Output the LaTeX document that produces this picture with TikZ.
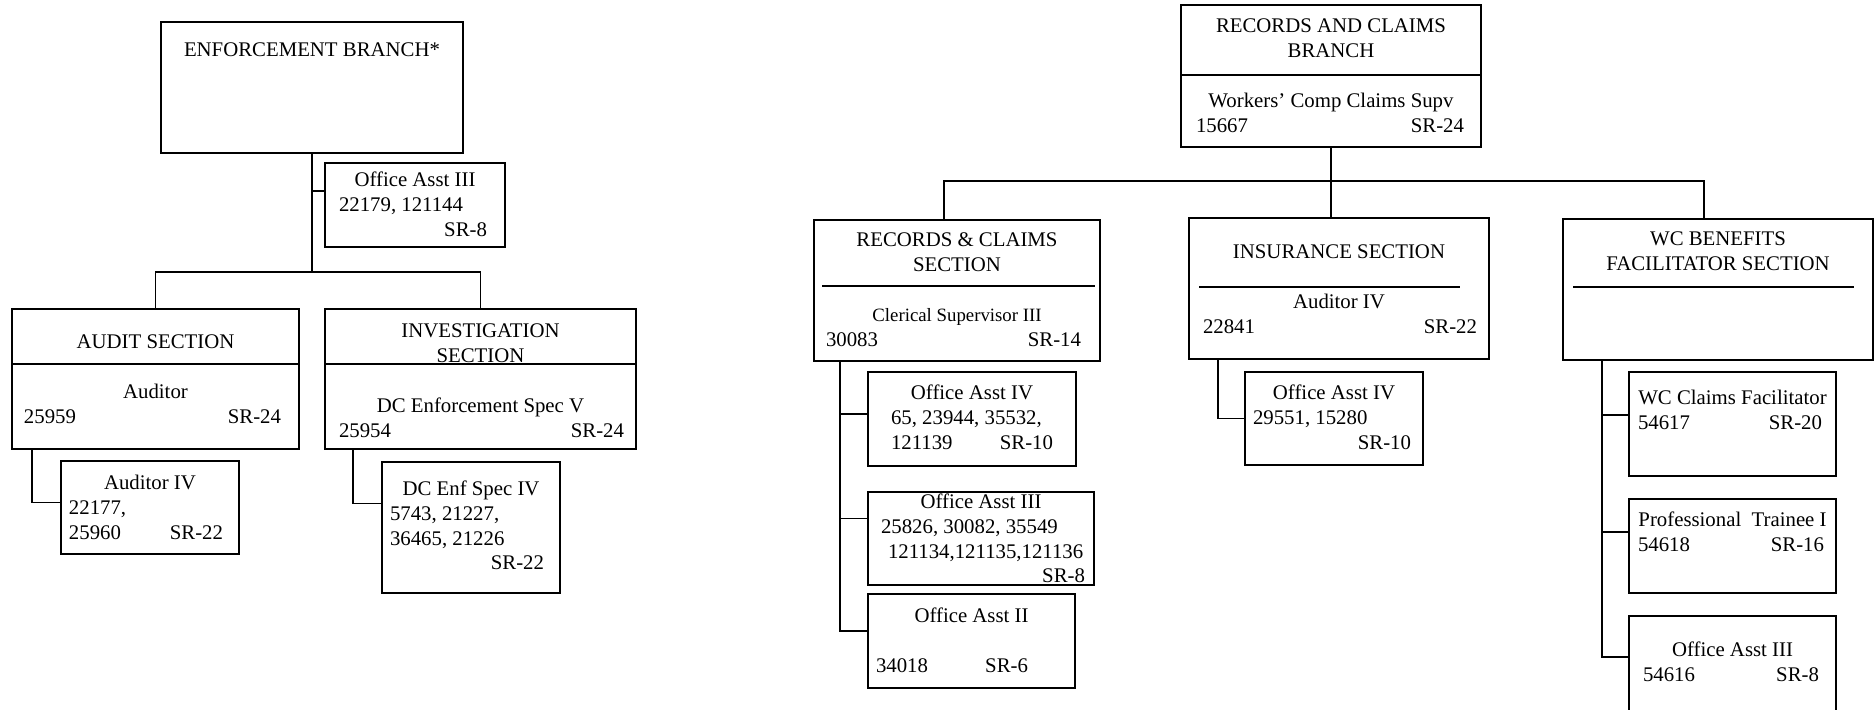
\documentclass[tikz,border=0pt]{standalone}
\usepackage{fontspec}
\setmainfont{Liberation Serif}
\usetikzlibrary{positioning}
\newlength\unitpx
\setlength\unitpx{0.5pt}
\newcommand\boxtxt[4]{\parbox[c][#2\unitpx][t]{\dimexpr#1\unitpx-12pt\relax}{\centering\vspace*{\dimexpr#3\unitpx-\ht\strutbox\relax}\strut#4}}
\newcommand\lr[2]{\hbox to\hsize{#1\hfill#2}}
\newcommand\ctrline[1]{\hbox to\hsize{\hss#1\hss}}
\tikzset{
  box/.style={draw,line width=0.9pt,inner xsep=6pt,inner ysep=0pt,outer sep=0pt,anchor=north west,font=\fontsize{10.4}{12.3}\selectfont},
  link/.style={draw,line width=0.6pt},
  divider/.style={draw,line width=0.9pt},
}

\begin{document}
\begin{tikzpicture}[x=0.5pt,y=-0.5pt]
\useasboundingbox (0,0) rectangle (1875,710);
\node[box] (ebr) at (161,22) {\boxtxt{302}{131}{35}{ENFORCEMENT BRANCH*}};
\node[box] (oa3e) at (325,163) {\boxtxt{180}{84}{24}{Office Asst III\\ \lr{\hskip1pt 22179, 121144}{}\lr{}{SR-8\hskip3pt}}};
\node[box] (aud) at (12,309) {\boxtxt{287}{140}{40}{AUDIT SECTION\\[12.7pt] Auditor\\ \lr{25959}{SR-24\hskip3pt}}};
\node[box] (inv) at (325,309) {\boxtxt{311}{140}{29}{INVESTIGATION\\ SECTION\\[12.7pt] DC Enforcement Spec V\\ \lr{\hskip1pt 25954}{SR-24}}};
\node[box] (aud4) at (61,461) {\boxtxt{178}{93}{29}{Auditor IV\\ \lr{\hskip-2pt 22177,}{}\lr{\hskip-2pt 25960}{SR-22\hskip2pt}}};
\node[box] (dce4) at (382,462) {\boxtxt{178}{131}{34}{DC Enf Spec IV\\ \lr{\hskip-2pt 5743, 21227,}{}\lr{\hskip-2pt 36465, 21226}{}\lr{}{SR-22\hskip2pt}}};
\draw[divider] ([yshift=-27.5pt]aud.north west) -- ([yshift=-27.5pt]aud.north east);
\draw[divider] ([yshift=-27.5pt]inv.north west) -- ([yshift=-27.5pt]inv.north east);
\coordinate (ebus) at ([yshift=-59.5pt]ebr.south);
\draw[link] (ebr.south) -- (ebus);
\draw[link] (aud.north) |- (ebus) -| (inv.north);
\draw[link] ([yshift=7pt]oa3e.west) -| (ebr.south);
\draw[link] ([xshift=10pt]aud.south west) |- ([yshift=2.5pt]aud4.west);
\draw[link] ([xshift=14pt]inv.south west) |- ([yshift=12pt]dce4.west);

\node[box] (rcb) at (1181,5) {\boxtxt{300}{142}{28}{RECORDS AND CLAIMS\\ BRANCH\\[12.7pt] Workers' Comp Claims Supv\\ \lr{\hskip1.5pt 15667}{SR-24\hskip2.5pt}}};
\node[box] (rcs) at (814,220) {\boxtxt{286}{141}{27}{RECORDS \& CLAIMS\\ SECTION\\[12.7pt] {\fontsize{9.4}{12.3}\selectfont Clerical Supervisor III}\\ \lr{30083}{SR-14\hskip3.5pt}}};
\node[box] (ins) at (1189,218) {\boxtxt{300}{141}{41}{INSURANCE SECTION\\[12.7pt] Auditor IV\\ \lr{\hskip1pt 22841}{SR-22}}};
\node[box] (wcb) at (1563,219) {\boxtxt{310}{141}{27}{WC BENEFITS\\ FACILITATOR SECTION}};
\node[box] (roa4) at (868,372) {\boxtxt{208}{94}{28}{Office Asst IV\\ \lr{\hskip5.5pt 65, 23944, 35532,}{}\lr{\hskip5.5pt 121139}{SR-10\hskip5.5pt}}};
\node[box] (roa3) at (868,492) {\boxtxt{226}{93}{17}{Office Asst III\\ \lr{\hskip0.5pt 25826, 30082, 35549}{}\lr{\hskip4pt 121134,121135,121136}{}\lr{}{SR-8\hskip-1.5pt}}};
\node[box] (roa2) at (868,594) {\boxtxt{207}{94}{29}{Office Asst II\\[12.7pt] \lr{\hskip-2pt 34018}{SR-6\hskip17.5pt}}};
\node[box] (ioa4) at (1245,372) {\boxtxt{178}{93}{28}{Office Asst IV\\ \lr{\hskip-2pt 29551, 15280}{}\lr{}{SR-10}}};
\node[box] (wcf) at (1629,372) {\boxtxt{207}{104}{33}{\ctrline{WC Claims Facilitator}\\ \lr{\hskip-1.5pt 54617}{SR-20\hskip1pt}}};
\node[box] (wpt) at (1629,499) {\boxtxt{207}{94}{28}{\ctrline{Professional\ \ Trainee I}\\ \lr{\hskip-1.5pt 54618}{SR-16}}};
\node[box] (woa3) at (1629,616) {\boxtxt{207}{110}{41}{Office Asst III\\ \lr{\hskip1pt 54616}{SR-8\hskip2.5pt}}};
\draw[divider] ([yshift=-35pt]rcb.north west) -- ([yshift=-35pt]rcb.north east);
\draw[divider] ([xshift=4pt,yshift=-33pt]rcs.north west) -- ([xshift=-2.5pt,yshift=-33pt]rcs.north east);
\draw[divider] ([xshift=5pt,yshift=-34.5pt]ins.north west) -- ([xshift=-14.5pt,yshift=-34.5pt]ins.north east);
\draw[divider] ([xshift=5pt,yshift=-34pt]wcb.north west) -- ([xshift=-9.5pt,yshift=-34pt]wcb.north east);
\coordinate (rbus) at ([yshift=-17pt]rcb.south);
\draw[link] (rcb.south) -- (rcb.south |- ins.north);
\draw[link] ([xshift=-6.5pt]rcs.north) |- (rbus) -| ([xshift=-7pt]wcb.north);
\draw[link] ([xshift=13pt]rcs.south west) |- ([yshift=5pt]roa2.west);
\draw[link] ([yshift=2.5pt]roa4.west) -| ([xshift=13pt]rcs.south west);
\draw[link] ([yshift=10pt]roa3.west) -| ([xshift=13pt]rcs.south west);
\draw[link] ([xshift=14.5pt]ins.south west) |- (ioa4.west);
\draw[link] ([xshift=19.5pt]wcb.south west) |- ([yshift=7pt]woa3.west);
\draw[link] ([yshift=4.5pt]wcf.west) -| ([xshift=19.5pt]wcb.south west);
\draw[link] ([yshift=7pt]wpt.west) -| ([xshift=19.5pt]wcb.south west);
\end{tikzpicture}
\end{document}
